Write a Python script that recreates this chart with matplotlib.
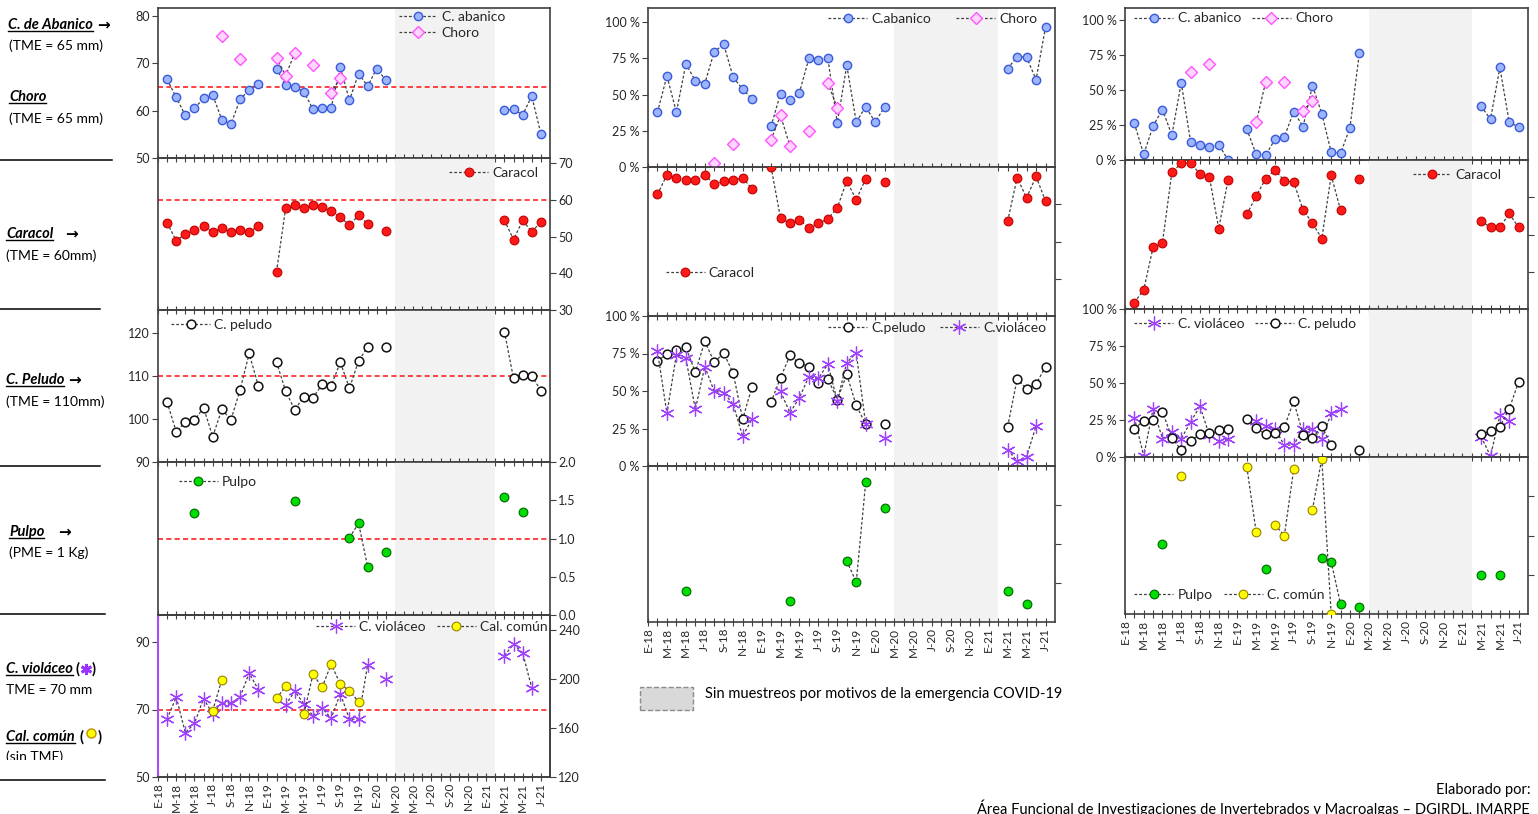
import numpy as np
import matplotlib
matplotlib.use("Agg")
import matplotlib.pyplot as plt
import matplotlib.ticker as mticker
from matplotlib.lines import Line2D
from matplotlib.patches import Rectangle
from matplotlib.transforms import Bbox

plt.rcParams["font.family"] = ["Lato", "DejaVu Sans"]

N = None
# month index 0 = ene-2018 ... 42 = jul-2021
months = np.arange(43)
month_labels = ["E-18", "M-18", "M-18", "J-18", "S-18", "N-18",
                "E-19", "M-19", "M-19", "J-19", "S-19", "N-19",
                "E-20", "M-20", "M-20", "J-20", "S-20", "N-20",
                "E-21", "M-21", "M-21", "J-21"]
covid_start, covid_end = 26, 37
EMPTY = [N] * 12

# ---------------- column 1: mean size (mm / kg) ----------------
abanico_mm = ([N, 66.6, 62.8, 59.0, 60.5, 62.6, 63.3, 58.1, 57.1, 62.4, 64.4, 65.7]
              + [N, 68.9, 65.4, 65.0, 64.0, 60.3, 60.6, 60.6, 69.2, 62.2, 67.8, 65.2]
              + [68.9, 66.4, N, N, N, N, N, N, N, N, N, N]
              + [N, N, 60.1, 60.3, 59.1, 63.1, 55.1])
choro_mm = ([N, N, N, N, N, N, N, 75.8, N, 71.0, N, N]
            + [N, 71.2, 67.4, 72.2, N, 69.6, N, 63.8, 66.9, N, N, N]
            + EMPTY + [N] * 7)
caracol_mm = ([N, 53.7, 48.9, 50.7, 51.9, 52.8, 51.3, 52.2, 51.3, 51.9, 51.3, 52.8]
              + [N, 40.4, 57.7, 58.6, 57.7, 58.6, 58.0, 57.0, 55.3, 53.1, 55.8, 53.5]
              + [N, 51.6, N, N, N, N, N, N, N, N, N, N]
              + [N, N, 54.4, 49.2, 54.4, 51.3, 54.0])
peludo_mm = ([N, 103.9, 97.0, 99.3, 99.7, 102.6, 95.9, 102.2, 99.8, 106.7, 115.2, 107.7]
             + [N, 113.2, 106.5, 102.1, 105.2, 104.9, 108.0, 107.7, 113.2, 107.1, 113.5, 116.7]
             + [N, 116.7, N, N, N, N, N, N, N, N, N, N]
             + [N, N, 120.3, 109.4, 110.2, 110.0, 106.6])
pulpo_kg = ([N, N, N, N, 1.33, N, N, N, N, N, N, N]
            + [N, N, N, 1.49, N, N, N, N, N, 1.01, 1.20, 0.63]
            + [N, 0.82, N, N, N, N, N, N, N, N, N, N]
            + [N, N, 1.54, N, 1.35, N, N])
violaceo_mm = ([N, 67.2, 73.7, 63.1, 65.9, 73.2, 68.7, 71.9, 71.9, 73.7, 80.8, 75.9]
               + [N, N, 71.4, 75.4, 71.7, 68.1, 70.4, 67.4, 74.7, 67.1, 67.2, 83.3]
               + [N, 79.1, N, N, N, N, N, N, N, N, N, N]
               + [N, N, 86.0, 89.3, 86.8, 76.4, N])
comun_mm = ([N, N, N, N, N, N, 174.1, 199.3, N, N, N, N]
            + [N, 184.2, 193.9, N, 171.4, 204.0, 193.1, 212.1, 195.8, 190.4, 181.5, N]
            + EMPTY + [N] * 7)

# ---------------- column 2: percentages ----------------
abanico_b = ([N, 37.8, 62.8, 37.8, 71.1, 59.6, 57.6, 79.6, 84.6, 61.9, 53.7, 46.8]
             + [N, 28.0, 50.7, 46.1, 51.4, 75.0, 74.1, 75.0, 30.3, 70.2, 31.0, 41.5]
             + [31.0, 41.5, N, N, N, N, N, N, N, N, N, N]
             + [N, N, 67.9, 76.1, 75.7, 60.3, 96.6])
choro_b = ([N, N, N, N, N, N, N, 3.0, N, 15.8, N, N]
           + [N, 18.8, 35.6, 14.4, N, 25.0, N, 58.0, 40.8, N, N, N]
           + EMPTY + [N] * 7)
caracol_b = ([N, 18.4, 5.2, 7.2, 8.8, 8.8, 5.2, 11.7, 9.7, 9.0, 7.2, 14.8]
             + [N, 0.0, 34.2, 37.8, 35.5, 40.7, 37.8, 34.8, 27.4, 9.4, 22.0, 7.9]
             + [N, 10.3, N, N, N, N, N, N, N, N, N, N]
             + [N, N, 36.4, 7.2, 20.7, 6.3, 22.9])
peludo_b = ([N, 70.1, 74.6, 77.5, 79.1, 62.5, 83.1, 69.2, 75.1, 62.0, 31.2, 53.0]
            + [N, 42.5, 58.9, 73.7, 68.5, 66.3, 55.5, 58.2, 44.3, 61.1, 40.4, 27.9]
            + [N, 27.9, N, N, N, N, N, N, N, N, N, N]
            + [N, N, 26.3, 58.0, 51.5, 54.6, 66.3])
violaceo_b = ([N, 76.4, 35.1, 74.2, 71.9, 37.8, 66.3, 49.7, 49.0, 41.1, 19.8, 31.5]
              + [N, N, 49.7, 35.5, 45.6, 59.6, 58.4, 67.9, 43.4, 69.0, 75.3, 27.9]
              + [N, 18.4, N, N, N, N, N, N, N, N, N, N]
              + [N, N, 10.8, 3.4, 6.3, 26.7, N])
pulpo_b = ([N, N, N, N, 80.0, N, N, N, N, N, N, N]
           + [N, N, N, 86.5, N, N, N, N, N, 60.9, 74.4, 10.5]
           + [N, 26.9, N, N, N, N, N, N, N, N, N, N]
           + [N, N, 80.0, N, 88.6, N, N])

# ---------------- column 3: percentages ----------------
abanico_c = ([N, 26.1, 4.0, 24.4, 36.0, 17.8, 55.2, 13.0, 10.9, 9.2, 10.9, 0.0]
             + [N, 22.0, 4.0, 3.3, 14.7, 16.4, 34.6, 23.9, 53.1, 33.2, 5.5, 4.7]
             + [23.0, 76.3, N, N, N, N, N, N, N, N, N, N]
             + [N, N, 38.4, 29.1, 66.1, 26.8, 23.7])
choro_c = ([N, N, N, N, N, N, N, 62.8, N, 68.5, N, N]
           + [N, N, 26.8, 55.5, N, 55.5, N, 35.3, 42.2, N, N, N]
           + EMPTY + [N] * 7)
caracol_c = ([N, 95.7, 87.0, 58.5, 55.4, 8.3, 2.2, 1.8, 9.6, 11.2, 46.0, 13.2]
             + [N, 36.5, 24.2, 12.6, 6.7, 13.9, 14.8, 33.6, 42.4, 52.7, 10.3, 33.6]
             + [N, 12.6, N, N, N, N, N, N, N, N, N, N]
             + [N, N, 40.8, 45.3, 45.3, 35.9, 45.3])
violaceo_c = ([N, 26.5, 0.7, 32.6, 12.4, 16.9, 12.4, 23.6, 34.4, 14.6, 10.6, 12.4]
              + [N, N, 24.3, 20.9, 19.1, 7.9, 8.3, 18.7, 18.7, 11.9, 29.4, 32.1]
              + EMPTY
              + [N, N, 13.7, 0.7, 28.1, 24.3, N])
peludo_c = ([N, 19.1, 24.5, 24.7, 30.6, 13.0, 4.7, 10.6, 15.7, 16.4, 18.0, 18.7]
            + [N, 25.8, 19.6, 15.3, 16.4, 20.2, 37.8, 15.1, 12.8, 20.9, 7.9, N]
            + [N, 4.7, N, N, N, N, N, N, N, N, N, N]
            + [N, N, 15.7, 17.3, 20.4, 32.6, 50.8])
pulpo_c = ([N, N, N, N, 55.6, N, N, N, N, N, N, N]
           + [N, N, N, 71.4, N, N, N, N, N, 64.6, 66.7, 93.8]
           + [N, 95.7, N, N, N, N, N, N, N, N, N, N]
           + [N, N, 75.0, N, 75.0, N, N])
comun_c = ([N, N, N, N, N, N, 11.9, N, N, N, N, N]
           + [N, 6.4, 47.9, N, 43.1, 50.1, 7.9, N, 33.5, 1.0, 100.0, N]
           + EMPTY + [N] * 7)

# ---------------- styles ----------------
LINE = dict(color="#404040", lw=0.9, ls=(0, (2.2, 1.6)))
ABANICO = dict(marker="o", ms=6, mfc="#9DB4FF", mec="#3A5BD9", mew=1.0)
CHORO = dict(marker="D", ms=5.8, mfc="#FFD6FF", mec="#FF55FF", mew=1.0)
CARACOL = dict(marker="o", ms=6.3, mfc="#FF1A1A", mec="#C00000", mew=0.8)
PELUDO = dict(marker="o", ms=6.3, mfc="white", mec="#111111", mew=1.1)
PULPO = dict(marker="o", ms=6.3, mfc="#00DD00", mec="#006600", mew=0.8)
VIOLACEO = dict(marker=(6, 2, 0), ms=10, mec="#A040FF", mew=0.9)
COMUN = dict(marker="o", ms=6.3, mfc="#FFFF00", mec="#9A8000", mew=0.8)
TME = dict(color="#FF2020", lw=1.2, ls=(0, (3, 2)), zorder=1)
FRAME = "#404040"
TXT = "#262626"

W, H = 1538, 814
fig = plt.figure(figsize=(W / 100, H / 100), dpi=100)
fig.patch.set_facecolor("white")


def fx(x):
    return x / W


def fy(y):
    return 1 - y / H


def panel(x0, x1, y0, y1, xlabels=False):
    ax = fig.add_axes([fx(x0), fy(y1), (x1 - x0) / W, (y1 - y0) / H])
    ax.patch.set_visible(False)
    ax.set_xlim(0, 43)
    ax.set_xticks(months)
    if xlabels:
        ax.set_xticklabels([month_labels[i // 2] if i % 2 == 0 else "" for i in months])
    else:
        ax.set_xticklabels([])
    ax.tick_params(axis="x", direction="inout", length=6, width=0.8, color=FRAME,
                   labelsize=8.5, labelrotation=90, pad=1, labelcolor=TXT)
    ax.tick_params(axis="y", direction="out", length=4, width=0.8, color=FRAME,
                   labelsize=9, labelcolor=TXT, pad=2)
    for sp in ax.spines.values():
        sp.set_color(FRAME)
        sp.set_linewidth(1.2)
    ax.axvspan(covid_start, covid_end, color="#F2F2F2", zorder=0, lw=0)
    return ax


def draw(ax, vals, style, label):
    y = np.array([np.nan if v is None else v for v in vals], dtype=float)
    ln, = ax.plot(months, y, label=label, zorder=3, **LINE, **style)
    return ln


def right_ticks_only(ax, labels=True):
    ax.yaxis.tick_right()
    ax.tick_params(axis="y", left=False, right=True)
    if not labels:
        ax.set_yticklabels([])


def legend(ax, handles, x, y, ncol=1, colsp=1.2):
    lg = ax.legend(handles=handles, loc="upper left", bbox_to_anchor=(x, y), ncol=ncol,
                   frameon=False, fontsize=10, borderaxespad=0, borderpad=0.1,
                   handlelength=2.8, handletextpad=0.3, labelspacing=0.3,
                   columnspacing=colsp, numpoints=1)
    for t in lg.get_texts():
        t.set_color(TXT)
    lg.set_zorder(5)
    return lg


pct = mticker.FuncFormatter(lambda v, _: f"{v:.0f} %")

# ================= column 1 =================
LX0, LX1 = 158, 550
a1 = panel(LX0, LX1, 8, 158)
a1.set_ylim(50, 81.7)
a1.set_yticks([50, 60, 70, 80])
a1.axhline(65, **TME)
h1 = draw(a1, abanico_mm, ABANICO, "C. abanico")
h2 = draw(a1, choro_mm, CHORO, "Choro")
legend(a1, [h1, h2], 0.61, 0.99)

a2 = panel(LX0, LX1, 158, 310)
a2.set_ylim(30, 71.4)
a2.set_yticks([30, 40, 50, 60, 70])
right_ticks_only(a2)
a2.axhline(60, **TME)
h = draw(a2, caracol_mm, CARACOL, "Caracol")
legend(a2, [h], 0.74, 0.95)

a3 = panel(LX0, LX1, 310, 462)
a3.set_ylim(90, 125.3)
a3.set_yticks([90, 100, 110, 120])
a3.axhline(110, **TME)
h = draw(a3, peludo_mm, PELUDO, "C. peludo")
legend(a3, [h], 0.03, 0.95)

a4 = panel(LX0, LX1, 462, 615)
a4.set_ylim(0, 2.0)
a4.set_yticks([0, 0.5, 1.0, 1.5, 2.0])
a4.yaxis.set_major_formatter(mticker.FormatStrFormatter("%.1f"))
right_ticks_only(a4)
a4.axhline(1.0, **TME)
h = draw(a4, pulpo_kg, PULPO, "Pulpo")
legend(a4, [h], 0.05, 0.92)

a5 = panel(LX0, LX1, 615, 777, xlabels=True)
a5.set_ylim(50, 98)
a5.set_yticks([50, 70, 90])
a5.spines["left"].set_color("#A64DFF")
a5.spines["left"].set_linewidth(1.5)
a5.axhline(70, **TME)
hv = draw(a5, violaceo_mm, VIOLACEO, "C. violáceo")
a5b = a5.twinx()
a5b.set_ylim(120, 252.2)
a5b.set_yticks([120, 160, 200, 240])
a5b.tick_params(axis="y", direction="out", length=4, width=0.8, color=FRAME,
                labelsize=9, labelcolor=TXT, pad=2)
for sp in a5b.spines.values():
    sp.set_color(FRAME)
    sp.set_linewidth(1.2)
a5b.spines["left"].set_visible(False)
hc = draw(a5b, comun_mm, COMUN, "Cal. común")
legend(a5b, [hv, hc], 0.40, 0.97, ncol=2, colsp=0.8)

# ================= column 2 =================
MX0, MX1 = 648, 1055
b1 = panel(MX0, MX1, 8, 167)
b1.set_ylim(0, 109.7)
b1.set_yticks([0, 25, 50, 75, 100])
b1.yaxis.set_major_formatter(pct)
h1 = draw(b1, abanico_b, ABANICO, "C.abanico")
h2 = draw(b1, choro_b, CHORO, "Choro")
legend(b1, [h1, h2], 0.44, 0.98, ncol=2, colsp=1.8)

b2 = panel(MX0, MX1, 167, 316)
b2.set_ylim(100, 0)
b2.set_yticks([25, 50, 75])
right_ticks_only(b2, labels=False)
h = draw(b2, caracol_b, CARACOL, "Caracol")
legend(b2, [h], 0.04, 0.34)

b3 = panel(MX0, MX1, 316, 466)
b3.set_ylim(0, 100)
b3.set_yticks([0, 25, 50, 75, 100])
b3.yaxis.set_major_formatter(pct)
h1 = draw(b3, peludo_b, PELUDO, "C.peludo")
h2 = draw(b3, violaceo_b, VIOLACEO, "C.violáceo")
legend(b3, [h1, h2], 0.44, 0.97, ncol=2, colsp=1.0)

b4 = panel(MX0, MX1, 466, 622, xlabels=True)
b4.set_ylim(100, 0)
b4.set_yticks([25, 50, 75])
right_ticks_only(b4, labels=False)
draw(b4, pulpo_b, PULPO, "Pulpo")

# ================= column 3 =================
RX0, RX1 = 1125, 1528
c1 = panel(RX0, RX1, 8, 160)
c1.set_ylim(0, 108.6)
c1.set_yticks([0, 25, 50, 75, 100])
c1.yaxis.set_major_formatter(pct)
h1 = draw(c1, abanico_c, ABANICO, "C. abanico")
h2 = draw(c1, choro_c, CHORO, "Choro")
legend(c1, [h1, h2], 0.02, 0.98, ncol=2, colsp=0.8)

c2 = panel(RX0, RX1, 160, 309)
c2.set_ylim(100, 0)
c2.set_yticks([25, 50, 75])
right_ticks_only(c2, labels=False)
h = draw(c2, caracol_c, CARACOL, "Caracol")
legend(c2, [h], 0.71, 0.95)

c3 = panel(RX0, RX1, 309, 457)
c3.set_ylim(0, 100)
c3.set_yticks([0, 25, 50, 75, 100])
c3.yaxis.set_major_formatter(pct)
h1 = draw(c3, violaceo_c, VIOLACEO, "C. violáceo")
h2 = draw(c3, peludo_c, PELUDO, "C. peludo")
legend(c3, [h1, h2], 0.02, 0.95, ncol=2, colsp=0.8)

c4 = panel(RX0, RX1, 457, 614, xlabels=True)
c4.set_ylim(100, 0)
c4.set_yticks([25, 50, 75])
right_ticks_only(c4, labels=False)
h1 = draw(c4, pulpo_c, PULPO, "Pulpo")
h2 = draw(c4, comun_c, COMUN, "C. común")
legend(c4, [h1, h2], 0.02, 0.17, ncol=2, colsp=0.8)

# ================= left-hand labels =================
renderer = fig.canvas.get_renderer()


def name(x, y, s, arrow_gap=None):
    t = fig.text(fx(x), fy(y), s, fontsize=10.5, fontweight="bold", fontstyle="italic",
                 ha="left", va="center", color="black")
    bb = t.get_window_extent(renderer)
    fig.add_artist(Line2D([bb.x0 / W, bb.x1 / W], [(bb.y0 + 1.5) / H] * 2,
                          color="black", lw=1.0, transform=fig.transFigure))
    if arrow_gap is not None:
        fig.text((bb.x1 + arrow_gap) / W, fy(y), "\u2192", fontsize=11, fontweight="bold",
                 ha="left", va="center", color="black", family=["DejaVu Sans"])
    return bb


def note(x, y, s):
    return fig.text(fx(x), fy(y), s, fontsize=10, ha="left", va="center", color="black")


def sep(y, x1):
    fig.add_artist(Line2D([0, fx(x1)], [fy(y)] * 2, color="black", lw=1.1,
                          transform=fig.transFigure))


name(8, 25, "C. de Abanico", 4)
note(9, 46, "(TME = 65 mm)")
name(9, 97, "Choro")
note(9, 119, "(TME = 65 mm)")
sep(160, 112)
name(6, 234, "Caracol", 12)
note(6, 256, "(TME = 60mm)")
sep(309, 100)
name(6, 380, "C. Peludo", 4)
note(6, 402, "(TME = 110mm)")
sep(466, 100)
name(9, 532, "Pulpo", 14)
note(9, 553, "(PME = 1 Kg)")
sep(614, 105)

bb = name(6, 669, "C. violáceo")
fig.text((bb.x1 + 3) / W, fy(669), "(", fontsize=10.5, fontweight="bold", ha="left", va="center")
fig.add_artist(Line2D([(bb.x1 + 13) / W], [fy(669)], marker=(6, 2, 0), ms=8, mec="#9933FF",
                      mew=2.0, transform=fig.transFigure))
fig.text((bb.x1 + 19) / W, fy(669), ")", fontsize=10.5, fontweight="bold", ha="left", va="center")
note(6, 690, "TME = 70 mm")

bb = name(6, 737, "Cal. común")
fig.text((bb.x1 + 5) / W, fy(737), "(", fontsize=10.5, fontweight="bold", ha="left", va="center")
fig.add_artist(Line2D([(bb.x1 + 16) / W], [fy(733)], marker="o", ms=6.5, mfc="#FFFF00",
                      mec="#C09000", mew=1.0, transform=fig.transFigure))
fig.text((bb.x1 + 23) / W, fy(737), ")", fontsize=10.5, fontweight="bold", ha="left", va="center")
t = note(6, 757, "(sin TME)")
t.set_clip_box(Bbox([[0, H - 760], [200, H]]))
t.set_clip_on(True)
sep(780, 105)

# ================= COVID legend & credits =================
fig.add_artist(Rectangle((fx(640), fy(710)), 53 / W, 23 / H, transform=fig.transFigure,
                         facecolor="#D9D9D9", edgecolor="#8C8C8C", ls="--", lw=1.0))
fig.text(fx(705), fy(694), "Sin muestreos por motivos de la emergencia COVID-19",
         fontsize=10.5, ha="left", va="center", color="black")
fig.text(fx(1530), fy(790), "Elaborado por:", fontsize=10.5, ha="right", va="center")
fig.text(fx(1530), fy(808),
         "Área Funcional de Investigaciones de Invertebrados y Macroalgas \u2013 DGIRDL, IMARPE",
         fontsize=10.5, ha="right", va="center")

fig.savefig("out.png", dpi=100, facecolor="white")
